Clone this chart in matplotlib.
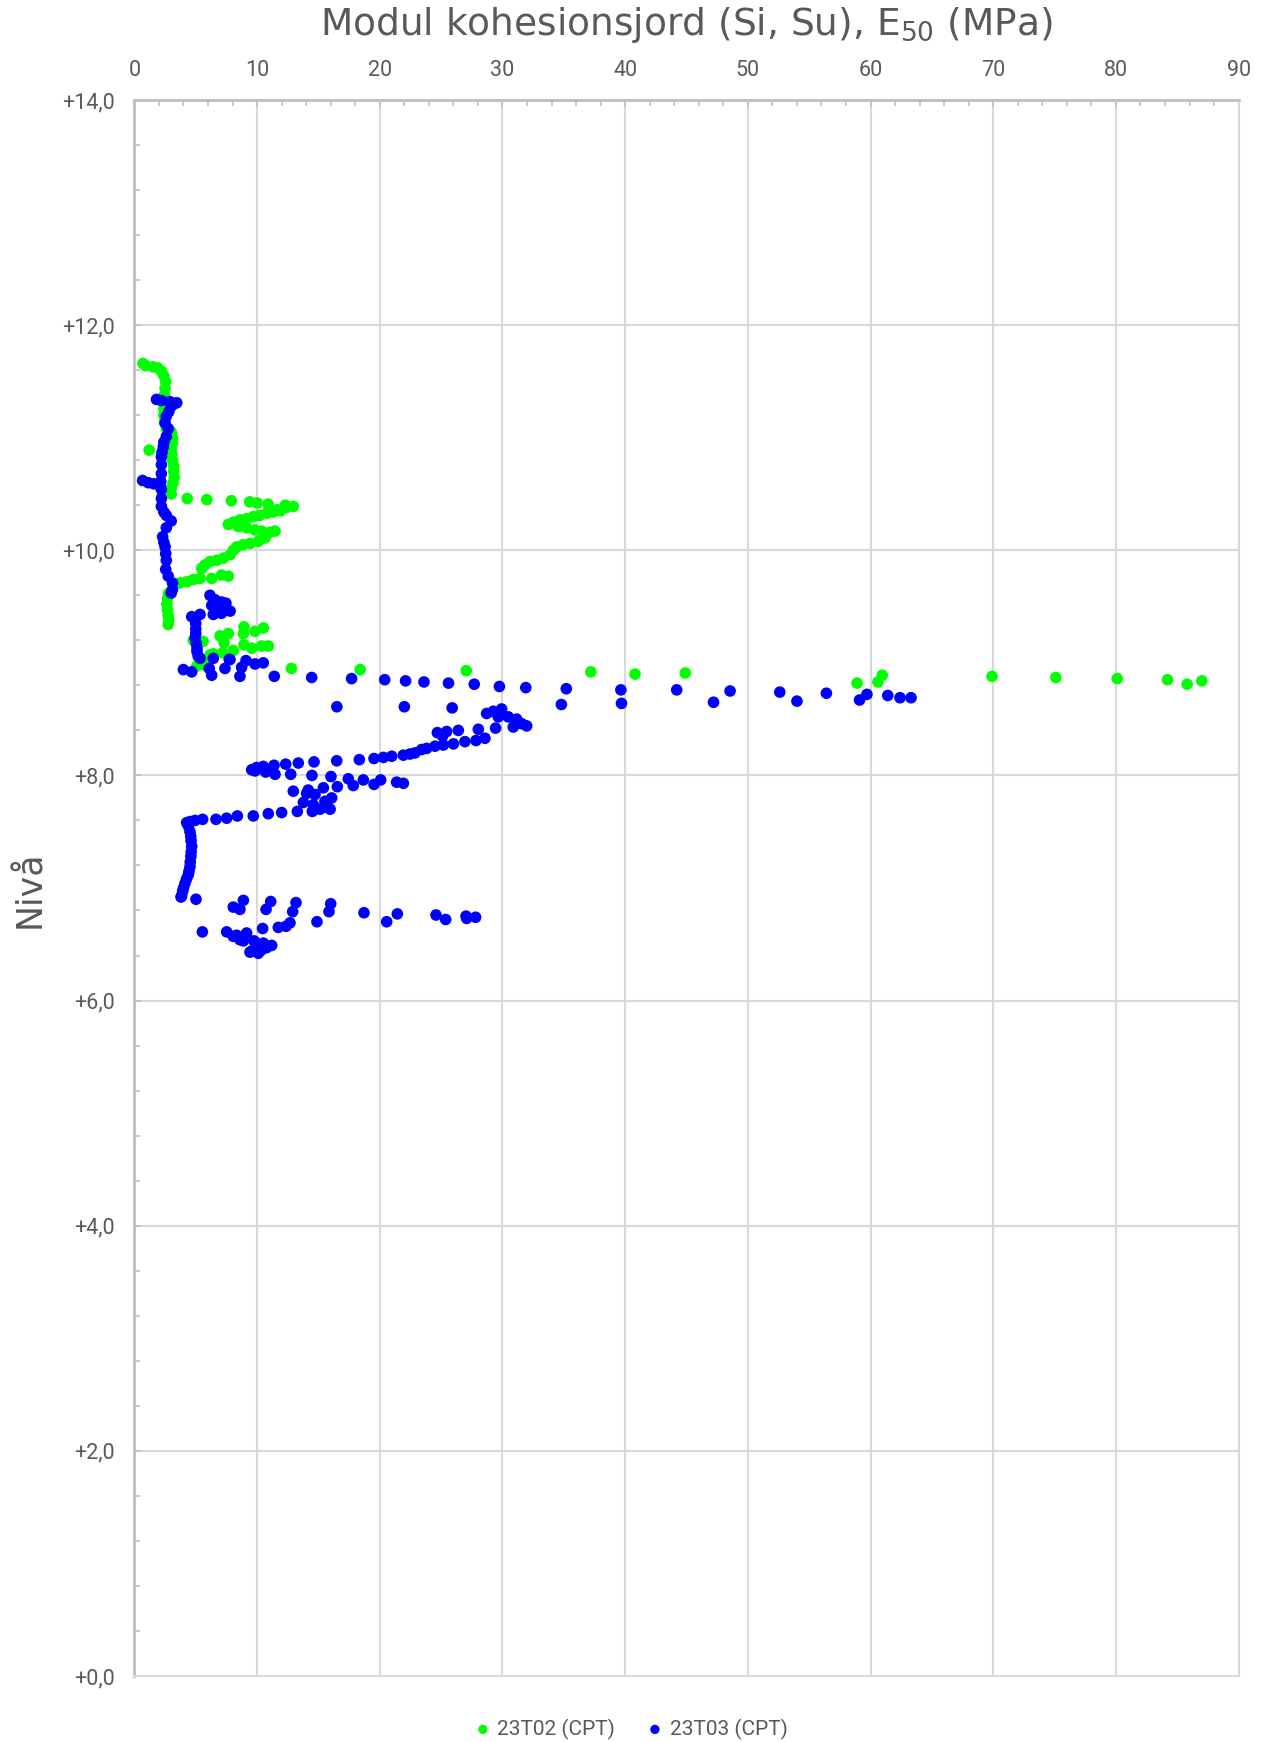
import matplotlib
matplotlib.use("Agg")
import matplotlib.pyplot as plt
import matplotlib.ticker as mtick

# 23T02 (CPT) - E50 (MPa) vs level
x_23t02 = [0.7, 0.9, 1.5, 1.9, 2.2, 2.4, 2.55, 2.5, 2.45, 2.4, 2.4, 2.4, 2.45, 2.6,
           3.0, 3.1, 3.1, 3.0, 3.05, 3.1, 3.2, 3.2, 3.25, 3.15, 3.0, 2.2, 2.3, 3.0, 1.2,
           4.3, 5.9, 7.9, 9.4, 10.0, 10.9, 11.6, 12.3, 12.95,
           12.4, 11.9, 11.3, 10.8, 10.2, 9.7, 9.15, 8.6, 8.07, 7.65,
           8.47, 9.15, 9.83, 10.37, 11.05, 11.46,
           10.65, 10.1, 9.42, 8.87, 8.34, 8.06, 7.8, 7.25, 6.7, 6.16, 5.75, 5.48,
           6.3, 7.1, 7.65, 5.35, 4.8, 4.26, 3.7,
           2.8, 2.7, 2.65, 2.7, 2.75, 2.8, 2.75,
           4.8, 5.6, 6.98, 7.65, 7.3, 8.93, 8.88, 9.83, 10.51, 7.19, 8.06, 8.93, 9.56,
           10.37, 10.92, 6.43, 5.35, 5.75, 5.08, 6.16,
           12.8, 18.4, 27.05, 37.2, 40.8, 44.9, 58.9, 60.6, 60.95, 69.9, 75.1, 80.1,
           84.2, 85.8, 87.0]
y_23t02 = [11.66, 11.64, 11.63, 11.62, 11.59, 11.55, 11.50, 11.44, 11.38, 11.32, 11.26, 11.20, 11.14, 11.08,
           11.05, 11.00, 10.95, 10.90, 10.85, 10.80, 10.75, 10.70, 10.65, 10.60, 10.55, 10.56, 10.50, 10.50, 10.89,
           10.46, 10.45, 10.44, 10.43, 10.42, 10.41, 10.36, 10.40, 10.39,
           10.38, 10.35, 10.34, 10.33, 10.31, 10.30, 10.28, 10.27, 10.25, 10.23,
           10.21, 10.20, 10.18, 10.17, 10.16, 10.17,
           10.11, 10.08, 10.06, 10.05, 10.03, 10.00, 9.96, 9.93, 9.91, 9.90, 9.87, 9.84,
           9.75, 9.78, 9.77, 9.75, 9.74, 9.72, 9.71,
           9.62, 9.57, 9.52, 9.47, 9.42, 9.38, 9.34,
           9.20, 9.19, 9.24, 9.26, 9.18, 9.32, 9.26, 9.28, 9.31, 9.09, 9.11, 9.16, 9.13,
           9.15, 9.15, 9.08, 9.04, 8.98, 8.97, 9.07,
           8.95, 8.94, 8.93, 8.92, 8.90, 8.91, 8.82, 8.83, 8.89, 8.88, 8.87, 8.86,
           8.85, 8.81, 8.84]

# 23T03 (CPT)
x_23t03 = [1.8, 2.2, 2.9, 3.45, 3.2, 3.0, 2.8, 2.6, 2.5, 2.76, 2.6, 2.4, 2.36, 2.25, 2.2,
           2.2, 2.2, 2.15, 2.2, 2.2, 2.2, 2.4, 2.6, 3.0, 2.6, 2.3, 2.4, 2.5, 2.55, 2.6,
           2.55, 2.76, 3.1, 3.1, 3.0,
           0.67, 1.13, 1.6,
           6.16, 6.3, 6.57, 7.1, 7.46, 7.8, 7.1, 6.43, 6.7,
           4.67, 5.35, 5.0, 5.0, 5.0, 4.95, 5.05, 5.1, 5.1, 5.2, 5.35,
           6.43, 7.73, 7.38, 6.3, 6.1, 3.99, 4.67, 8.6, 8.74, 9.1, 9.83, 10.5, 7.79,
           11.4, 14.45, 17.7, 20.4, 22.1, 23.6, 25.6, 27.7, 29.75, 31.9, 35.2, 39.65,
           44.2, 48.55, 52.6, 54.0, 56.4, 59.1, 59.7, 61.4, 62.4, 63.3,
           16.5, 22.0, 25.9, 34.8, 39.7, 47.2,
           28.71, 29.25, 29.93, 29.66, 30.47, 31.15, 31.56, 31.97, 30.88, 29.44, 28.03,
           28.57, 27.84, 26.94, 26.40, 25.45, 24.69, 25.12, 26.0, 25.18, 24.5, 23.82,
           23.41, 22.87, 22.46, 21.92, 20.97, 20.29, 19.53, 18.33, 16.49, 14.64, 13.36,
           12.33, 11.38, 10.51, 9.96, 9.56, 9.83, 10.70, 11.46, 12.74, 14.47, 16.02,
           17.43, 18.66, 20.07, 19.53, 21.37, 21.92, 17.84, 16.54, 15.4, 14.17, 12.95,
           14.04, 14.72, 13.77, 14.58, 15.67, 15.95, 16.08, 15.53, 14.5, 15.13,
           4.26, 4.53, 4.94, 5.56, 6.65, 7.52, 8.39, 9.69, 10.91, 12.0, 13.28,
           4.4, 4.53, 4.59, 4.62, 4.67, 4.63, 4.6, 4.55, 4.53, 4.45, 4.4, 4.25, 4.12,
           4.0, 3.93, 3.85, 3.8, 5.02,
           8.06, 8.6, 8.88, 10.73, 11.11, 13.17, 12.9, 16.0, 15.86, 18.71, 20.56, 21.43,
           24.58, 25.37, 27.03, 27.08, 27.81, 14.88, 12.68, 12.36, 11.73, 10.45, 5.54,
           7.52, 8.06, 8.34, 8.6, 9.15, 8.88, 9.75, 10.51, 11.19, 10.78, 10.1, 9.42,
           10.37, 9.56, 9.83]
y_23t03 = [11.34, 11.33, 11.32, 11.31, 11.30, 11.28, 11.23, 11.19, 11.13, 11.08, 11.01, 10.96, 10.92, 10.87, 10.83,
           10.76, 10.68, 10.61, 10.54, 10.46, 10.39, 10.34, 10.31, 10.26, 10.20, 10.12, 10.07, 10.03, 9.97, 9.91,
           9.83, 9.77, 9.71, 9.65, 9.62,
           10.62, 10.60, 10.59,
           9.60, 9.51, 9.56, 9.54, 9.53, 9.46, 9.44, 9.43, 9.49,
           9.41, 9.43, 9.35, 9.30, 9.26, 9.22, 9.17, 9.13, 9.10, 9.06, 9.04,
           9.04, 9.03, 8.95, 8.89, 8.95, 8.94, 8.92, 8.88, 8.96, 9.02, 8.99, 9.00, 9.03,
           8.88, 8.87, 8.86, 8.85, 8.84, 8.83, 8.82, 8.81, 8.79, 8.78, 8.77, 8.76,
           8.76, 8.75, 8.74, 8.66, 8.73, 8.67, 8.72, 8.71, 8.69, 8.69,
           8.61, 8.61, 8.60, 8.63, 8.64, 8.65,
           8.55, 8.57, 8.59, 8.52, 8.52, 8.50, 8.46, 8.44, 8.43, 8.42, 8.41,
           8.33, 8.31, 8.30, 8.40, 8.39, 8.38, 8.35, 8.28, 8.27, 8.26, 8.24,
           8.23, 8.20, 8.19, 8.18, 8.17, 8.16, 8.15, 8.14, 8.13, 8.12, 8.11,
           8.10, 8.09, 8.08, 8.07, 8.05, 8.04, 8.03, 8.01, 8.01, 8.00, 7.99,
           7.97, 7.96, 7.96, 7.92, 7.94, 7.93, 7.91, 7.90, 7.89, 7.87, 7.86,
           7.84, 7.83, 7.76, 7.74, 7.72, 7.70, 7.80, 7.77, 7.68, 7.70,
           7.58, 7.59, 7.60, 7.61, 7.61, 7.62, 7.64, 7.64, 7.66, 7.67, 7.68,
           7.55, 7.50, 7.46, 7.42, 7.37, 7.32, 7.28, 7.23, 7.19, 7.15, 7.12, 7.08, 7.04,
           7.00, 6.97, 6.93, 6.92, 6.90,
           6.83, 6.81, 6.89, 6.81, 6.88, 6.87, 6.79, 6.86, 6.79, 6.78, 6.70, 6.77,
           6.76, 6.72, 6.75, 6.73, 6.74, 6.70, 6.69, 6.66, 6.65, 6.64, 6.61,
           6.61, 6.57, 6.58, 6.54, 6.60, 6.53, 6.53, 6.51, 6.49, 6.47, 6.42, 6.43,
           6.45, 6.44, 6.52]

txt = "#595959"
grid = "#D9D9D9"
axc = "#BFBFBF"

fig = plt.figure(figsize=(12.62, 17.42), dpi=100)
ax = fig.add_axes([0.1065, 0.0379, 0.875, 0.9047])

ax.scatter(x_23t02, y_23t02, s=70, c="#00FF00", edgecolors="none", label="23T02 (CPT)", zorder=3)
ax.scatter(x_23t03, y_23t03, s=70, c="#0000FF", edgecolors="none", label="23T03 (CPT)", zorder=4)

ax.set_xlim(0, 90)
ax.set_ylim(0, 14)
ax.xaxis.set_major_locator(mtick.MultipleLocator(10))
ax.xaxis.set_minor_locator(mtick.MultipleLocator(2))
ax.yaxis.set_major_locator(mtick.MultipleLocator(2))
ax.yaxis.set_minor_locator(mtick.MultipleLocator(0.4))
ax.yaxis.set_major_formatter(mtick.FuncFormatter(lambda v, p: ("+%.1f" % v).replace(".", ",")))

ax.xaxis.tick_top()
ax.grid(True, which="major", color=grid, linewidth=1.5, zorder=0)
ax.set_axisbelow(True)

for s in ["left", "top"]:
    ax.spines[s].set_color(axc)
    ax.spines[s].set_linewidth(2)
for s in ["right", "bottom"]:
    ax.spines[s].set_color(grid)
    ax.spines[s].set_linewidth(1.5)

ax.tick_params(axis="both", which="both", direction="in", color=axc, width=1.2,
               labelcolor=txt, labelsize=15.5)
ax.tick_params(axis="both", which="major", length=5, pad=14)
ax.tick_params(axis="both", which="minor", length=4)
ax.tick_params(axis="x", which="both", top=True, bottom=False)
for lab in ax.get_xticklabels() + ax.get_yticklabels():
    lab.set_family("Roboto")

fig.text(0.5435, 1 - 25 / 1742, "Modul kohesionsjord (Si, Su), E$_{50}$ (MPa)",
         ha="center", va="center", fontsize=27, color=txt)
fig.text(30 / 1262, 1 - 889 / 1742, "Nivå", rotation=90, ha="center", va="center",
         fontsize=25, color=txt)

leg = fig.legend(loc="center", bbox_to_anchor=(632 / 1262, 1 - 1729 / 1742), ncol=2,
                 frameon=False, markerscale=0.8, handlelength=0.6, handletextpad=0.4,
                 columnspacing=1.6, prop={"family": "Roboto", "size": 15})
for t in leg.get_texts():
    t.set_color(txt)

fig.savefig("out.png", dpi=100)
